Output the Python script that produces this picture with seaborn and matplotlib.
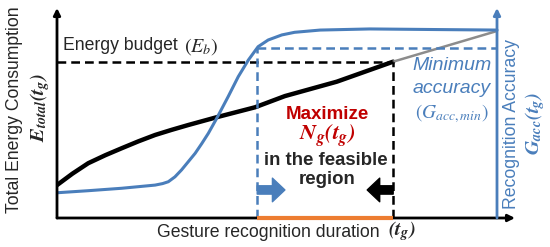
import matplotlib
matplotlib.use("Agg")
import matplotlib.pyplot as plt
import seaborn as sns

# duration axis is normalised: 0 = origin, 1 = right (accuracy) axis
# energy/accuracy axis normalised: 1 = value at right end
t_energy = [0.0, 0.035, 0.071, 0.11, 0.147, 0.185, 0.223, 0.26, 0.298, 0.363, 0.45,
            0.518, 0.636, 0.764]
e_energy = [0.176, 0.237, 0.293, 0.336, 0.373, 0.410, 0.444, 0.471, 0.497, 0.539, 0.592,
            0.652, 0.729, 0.836]
t_energy_ext = [0.764, 1.0]
e_energy_ext = [0.836, 1.0]

t_acc = [0.0, 0.071, 0.147, 0.223, 0.24, 0.253, 0.268, 0.283, 0.298, 0.314, 0.329, 0.344,
         0.363, 0.389, 0.412, 0.435, 0.457, 0.48, 0.511, 0.54, 0.598, 0.711, 0.85, 1.0]
g_acc = [0.135, 0.146, 0.159, 0.176, 0.184, 0.194, 0.220, 0.257, 0.300, 0.346, 0.398, 0.453,
         0.533, 0.649, 0.756, 0.845, 0.916, 0.952, 0.979, 0.993, 1.005, 1.011, 1.008, 1.005]

energy_budget = 0.836
min_accuracy = 0.907
t_min = 0.455   # shortest duration meeting accuracy
t_max = 0.764   # longest duration within energy budget

BLUE = "#4A7EBB"
RED = "#C00000"
ORANGE = "#ED7D31"

sns.set_theme(style="white")
plt.rcParams["font.family"] = ["Liberation Sans", "DejaVu Sans"]
plt.rcParams["mathtext.fontset"] = "stix"

W, H = 550, 247
fig = plt.figure(figsize=(5.5, 2.47), dpi=100)
x0, x1, y0, y1 = 57, 515, 218, 8
ax = fig.add_axes([x0 / W, 1 - y0 / H, (x1 - x0) / W, (y0 - y1) / H])
xmax = (x1 - x0) / 440
ymax = (y0 - y1) / 187
ax.set_xlim(0, xmax)
ax.set_ylim(0, ymax)
ax.axis("off")

# curves
sns.lineplot(x=t_energy, y=e_energy, ax=ax, color="black", lw=3.2, sort=False)
sns.lineplot(x=t_energy_ext, y=e_energy_ext, ax=ax, color="#8C8C8C", lw=1.8, sort=False)
sns.lineplot(x=t_acc, y=g_acc, ax=ax, color=BLUE, lw=2.2, sort=False)

# budget and accuracy guides
dash = (0, (3.5, 2))
ax.plot([0, t_max], [energy_budget, energy_budget], color="black", lw=1.8, linestyle=dash)
ax.plot([t_max, t_max], [0, energy_budget], color="black", lw=1.8, linestyle=dash)
ax.plot([t_min, 1.0], [min_accuracy, min_accuracy], color=BLUE, lw=1.8, linestyle=dash)
ax.plot([t_min, t_min], [0, min_accuracy], color=BLUE, lw=1.8, linestyle=dash)

# feasible region bar
ax.plot([t_min, t_max], [0, 0], color=ORANGE, lw=3, solid_capstyle="butt", clip_on=False, zorder=5)

# axes with arrows
ax.annotate("", xy=(0, ymax), xytext=(0, 0), annotation_clip=False,
            arrowprops=dict(arrowstyle="-|>", color="black", lw=2, mutation_scale=10, shrinkA=0, shrinkB=0))
ax.annotate("", xy=(xmax, 0), xytext=(0, 0), annotation_clip=False,
            arrowprops=dict(arrowstyle="-|>", color="black", lw=2, mutation_scale=10, shrinkA=0, shrinkB=0))
ax.annotate("", xy=(1.0, ymax), xytext=(1.0, 0), annotation_clip=False,
            arrowprops=dict(arrowstyle="-|>", color=BLUE, lw=2, mutation_scale=10, shrinkA=0, shrinkB=0))

# feasible region arrows
fat = "simple,head_length=0.9,head_width=1.7,tail_width=0.6"
ax.annotate("", xy=(0.518, 0.150), xytext=(t_min, 0.150),
            arrowprops=dict(arrowstyle=fat, color=BLUE, mutation_scale=10, shrinkA=0, shrinkB=0))
ax.annotate("", xy=(0.705, 0.150), xytext=(t_max, 0.150),
            arrowprops=dict(arrowstyle=fat, color="black", mutation_scale=10, shrinkA=0, shrinkB=0))

# annotations
FS = 12.7
MS = 14.5
ax.text(0.014, 0.925, "Energy budget", fontsize=FS, ha="left", va="center")
ax.text(0.327, 0.915, r"$(E_b)$", fontsize=MS, ha="center", va="center")
ax.text(0.898, 0.815, "Minimum", fontsize=14, color=BLUE, style="italic", ha="center", va="center")
ax.text(0.898, 0.693, "accuracy", fontsize=14, color=BLUE, style="italic", ha="center", va="center")
ax.text(0.898, 0.560, r"$(G_{acc,min})$", fontsize=14, color=BLUE, ha="center", va="center")

ax.text(0.614, 0.555, "Maximize", fontsize=13.5, color=RED, fontweight="bold", ha="center", va="center")
ax.text(0.614, 0.435, r"$\mathbfit{N_g(t_g)}$", fontsize=16, color=RED, ha="center", va="center")
ax.text(0.610, 0.308, "in the feasible", fontsize=13.4, fontweight="bold", ha="center", va="center")
ax.text(0.614, 0.207, "region", fontsize=13.4, fontweight="bold", ha="center", va="center")

# axis labels
fig.text(157 / W, 1 - 232 / H, "Gesture recognition duration", fontsize=FS, ha="left", va="center")
fig.text(402 / W, 1 - 231 / H, r"$\mathbfit{(t_g)}$", fontsize=MS, ha="center", va="center")
fig.text(15 / W, 1 - 110 / H, "Total Energy Consumption", fontsize=FS, rotation=90,
         ha="center", va="center")
fig.text(40 / W, 1 - 107 / H, r"$\mathbfit{E_{total}(t_g)}$", fontsize=MS, rotation=90,
         ha="center", va="center")
fig.text(512 / W, 1 - 124 / H, "Recognition Accuracy", fontsize=FS, rotation=90, color=BLUE,
         ha="center", va="center")
fig.text(535 / W, 1 - 123 / H, r"$\mathbfit{G_{acc}(t_g)}$", fontsize=MS, rotation=90, color=BLUE,
         ha="center", va="center")

fig.savefig("out.png", dpi=100)
